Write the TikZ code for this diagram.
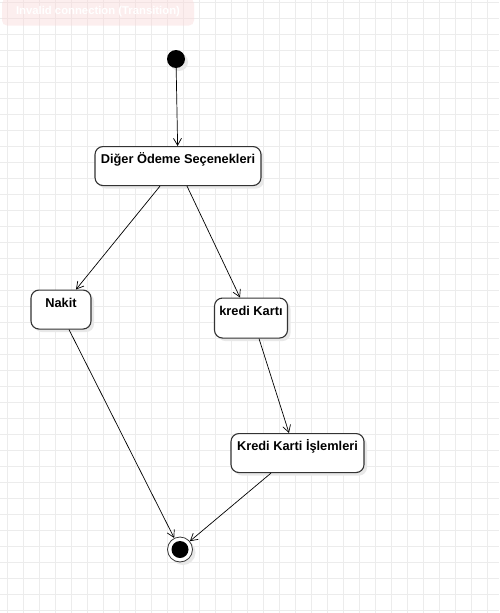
\documentclass[tikz,border=0pt]{standalone}
\usepackage{fontspec}
\setsansfont{Liberation Sans}
\usetikzlibrary{arrows.meta,shadows}
\definecolor{gridGray}{RGB}{236,236,236}
\definecolor{lineGray}{RGB}{51,51,51}
\definecolor{warnPink}{RGB}{250,218,218}

\begin{document}
\begin{tikzpicture}[x=1pt, y=-1pt,
    statebox/.style={draw=lineGray, line width=1.1pt, rounded corners=8pt, fill=white,
      font=\sffamily\bfseries\fontsize{12.8}{15}\selectfont, inner xsep=0pt, inner ysep=0pt,
      anchor=north, text height=17pt,
      drop shadow={shadow xshift=3pt, shadow yshift=-3pt, fill=black!9, opacity=1}},
    arr/.style={line width=0.7pt, -{Straight Barb[length=7pt,width=8pt]}}]
  \useasboundingbox (0,0) rectangle (499,613);
  \fill[white] (0,0) rectangle (499,613);
  % grid
  \foreach \gx in {7,23,...,495}
    \draw[gridGray, line width=1pt] (\gx,0) -- (\gx,613);
  \foreach \gy in {2,18,...,610}
    \draw[gridGray, line width=1pt] (0,\gy) -- (499,\gy);

  \node[rounded corners=5pt, fill=warnPink, fill opacity=0.45, text=white, text opacity=1,
    font=\sffamily\bfseries\fontsize{11.3}{13}\selectfont,
    minimum width=192pt, minimum height=27pt, inner sep=0pt] (warn) at (98,12) {Invalid connection (Transition)};

  % states
  \node[circle, fill=black, minimum size=18pt, inner sep=0pt,
    drop shadow={shadow xshift=3pt, shadow yshift=-3pt, fill=black!9, opacity=1}] (init) at (176,59) {};
  \node[statebox, minimum width=166pt, text depth=22pt] (diger) at (178,146) {Diğer Ödeme Seçenekleri};
  \node[statebox, minimum width=60pt, text depth=22pt] (nakit) at (61,289.5) {Nakit};
  \node[statebox, minimum width=73pt, text depth=23pt] (kredi) at (251,297.5) {kredi Kartı};
  \node[statebox, minimum width=133pt, text depth=22pt] (islem) at (297.5,433) {Kredi Karti İşlemleri};
  \node[circle, draw=lineGray, line width=0.8pt, fill=white, minimum size=25pt, inner sep=0pt,
    drop shadow={shadow xshift=3pt, shadow yshift=-3pt, fill=black!9, opacity=1}] (final) at (180,549.5) {};
  \node[circle, fill=black, minimum size=17pt, inner sep=0pt] (finaldot) at (final) {};

  % transitions
  \draw[arr] (init) -- (diger);
  \draw[arr] ([xshift=-18pt]diger.south) -- ([xshift=15pt]nakit.north);
  \draw[arr] ([xshift=9pt]diger.south) -- ([xshift=-11pt]kredi.north);
  \draw[arr] ([xshift=8pt]nakit.south) -- (final);
  \draw[arr] ([xshift=8pt]kredi.south) -- ([xshift=-8.5pt]islem.north);
  \draw[arr] ([xshift=-26.5pt]islem.south) -- (final);
\end{tikzpicture}
\end{document}
